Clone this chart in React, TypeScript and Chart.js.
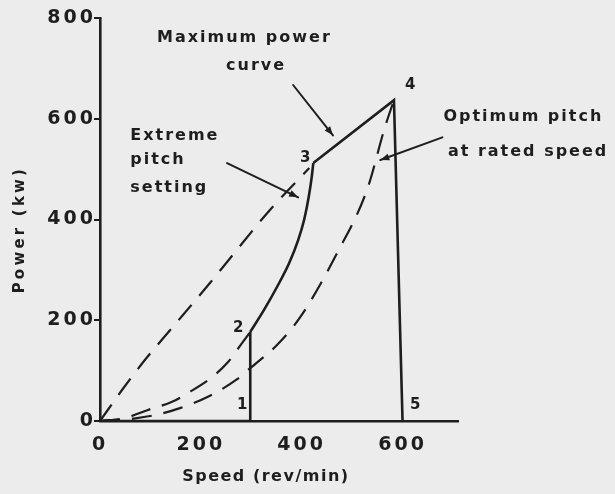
import React, { useEffect, useRef } from "react";
import { Chart, registerables } from "chart.js";

Chart.register(...registerables);

// ---- data (speed in rev/min, power in kW) ----
const SPEED_TICKS = [0, 200, 400, 600];
const POWER_TICKS = [0, 200, 400, 600, 800];
const SPEED_MAX = 710;
const POWER_MAX = 800;

// operating path 0 -> 1 -> 2 -> 3 -> 4 -> 5 (maximum power curve)
const maxPowerSpeed = [0, 298, 298, 325, 351, 375, 393, 405, 414, 420, 423, 583, 600];
const maxPowerValue = [0, 0, 177, 220, 266, 313, 359, 400, 445, 485, 512, 637, 0];
// index of point 2 and point 3 on the path; between them the path is a smooth curve
const POINT2_INDEX = 2;
const POINT3_INDEX = 10;

// extreme pitch setting (dashed, up to point 3)
const extremePitchSpeed = [0, 44, 89, 143, 218, 258, 337, 415];
const extremePitchPower = [0, 62, 121, 185, 274, 323, 419, 502];

// intermediate pitch (dashed, up to point 2)
const midPitchSpeed = [0, 50, 95, 143, 175, 222, 254, 282, 298];
const midPitchPower = [0, 6, 22, 38, 56, 87, 117, 155, 177];

// optimum pitch at rated speed (dashed, up to point 4)
const optimumPitchSpeed = [0, 60, 115, 160, 214, 272, 298, 350, 397, 470, 530, 565, 583];
const optimumPitchPower = [0, 4, 13, 26, 48, 83, 105, 150, 206, 333, 460, 583, 637];

// numbered operating points: label, speed, power
const pointLabels = ["1", "2", "3", "4", "5"];
const pointLabelSpeed = [282, 274, 407, 615, 625];
const pointLabelPower = [32, 185, 522, 667, 32];

// annotation text lines: text, left speed, middle power
const noteText = ["Maximum power", "curve", "Extreme", "pitch", "setting", "Optimum pitch", "at rated speed"];
const noteSpeed = [113, 250, 60, 60, 60, 681, 690];
const notePower = [760, 706, 567, 518, 462, 603, 534];

// leader arrows: from (speed, power) to tip (speed, power)
const arrowFromSpeed = [383, 252, 679];
const arrowFromPower = [667, 512, 563];
const arrowToSpeed = [462, 393, 556];
const arrowToPower = [567, 444, 518];

const X_TITLE = "Speed (rev/min)";
const Y_TITLE = "Power (kw)";

const INK = "#1e1e1e";
const FONT = "'DejaVu Sans', 'Verdana', sans-serif";

const toXY = (xs: number[], ys: number[]) => xs.map((x, i) => ({ x, y: ys[i] }));

const annotations = {
  id: "annotations",
  beforeLayout(chart: any) {
    chart.ctx.letterSpacing = "3px";
  },
  beforeDraw(chart: any) {
    chart.ctx.letterSpacing = "3px";
  },
  afterDraw(chart: any) {
    const { ctx, chartArea } = chart;
    const xs = chart.scales.x;
    const ys = chart.scales.y;
    const px = (v: number) => xs.getPixelForValue(v);
    const py = (v: number) => ys.getPixelForValue(v);

    ctx.save();
    ctx.fillStyle = INK;
    ctx.strokeStyle = INK;

    // annotation text
    ctx.font = `bold 16px ${FONT}`;
    ctx.letterSpacing = "2px";
    ctx.textAlign = "left";
    ctx.textBaseline = "middle";
    noteText.forEach((t, i) => ctx.fillText(t, px(noteSpeed[i]), py(notePower[i])));

    // numbered points
    ctx.font = `bold 15px ${FONT}`;
    ctx.textAlign = "center";
    ctx.letterSpacing = "0px";
    pointLabels.forEach((t, i) => ctx.fillText(t, px(pointLabelSpeed[i]), py(pointLabelPower[i])));

    // leader arrows
    ctx.lineWidth = 2;
    ctx.lineCap = "round";
    arrowFromSpeed.forEach((_, i) => {
      const x0 = px(arrowFromSpeed[i]);
      const y0 = py(arrowFromPower[i]);
      const x1 = px(arrowToSpeed[i]);
      const y1 = py(arrowToPower[i]);
      ctx.beginPath();
      ctx.moveTo(x0, y0);
      ctx.lineTo(x1, y1);
      ctx.stroke();
      const a = Math.atan2(y1 - y0, x1 - x0);
      const len = 9;
      const half = 3.5;
      const bx = x1 - len * Math.cos(a);
      const by = y1 - len * Math.sin(a);
      ctx.beginPath();
      ctx.moveTo(x1, y1);
      ctx.lineTo(bx + half * Math.sin(a), by - half * Math.cos(a));
      ctx.lineTo(bx - half * Math.sin(a), by + half * Math.cos(a));
      ctx.closePath();
      ctx.fill();
    });

    // axis titles
    ctx.font = `bold 16px ${FONT}`;
    ctx.letterSpacing = "1.5px";
    ctx.textAlign = "center";
    ctx.textBaseline = "middle";
    ctx.fillText(X_TITLE, px(329), chartArea.bottom + 56);

    ctx.font = `bold 15px ${FONT}`;
    ctx.letterSpacing = "3.2px";
    ctx.translate(chartArea.left - 80, py(380));
    ctx.rotate(-Math.PI / 2);
    ctx.fillText(Y_TITLE, 0, 0);
    ctx.restore();
  },
};

export default function App() {
  const ref = useRef<HTMLCanvasElement>(null);

  useEffect(() => {
    const lineStyle = {
      borderColor: INK,
      pointRadius: 0,
      tension: 0,
      fill: false,
    };
    const dashed = {
      ...lineStyle,
      borderWidth: 2.2,
      borderDash: [20, 12],
      cubicInterpolationMode: "monotone",
    };
    const solidXY = toXY(maxPowerSpeed, maxPowerValue);
    const chart = new Chart(ref.current!, {
      type: "line",
      data: {
        datasets: [
          { ...lineStyle, label: "Maximum power curve (0-1-2)", data: solidXY.slice(0, POINT2_INDEX + 1), borderWidth: 2.6 },
          {
            ...lineStyle,
            label: "Maximum power curve (2-3)",
            data: solidXY.slice(POINT2_INDEX, POINT3_INDEX + 1),
            borderWidth: 2.6,
            cubicInterpolationMode: "monotone",
          },
          { ...lineStyle, label: "Maximum power curve (3-4-5)", data: solidXY.slice(POINT3_INDEX), borderWidth: 2.6 },
          { ...dashed, label: "Extreme pitch setting", data: toXY(extremePitchSpeed, extremePitchPower) },
          { ...dashed, label: "Intermediate pitch", data: toXY(midPitchSpeed, midPitchPower) },
          { ...dashed, label: "Optimum pitch at rated speed", data: toXY(optimumPitchSpeed, optimumPitchPower) },
        ],
      },
      options: {
        animation: false,
        responsive: false,
        devicePixelRatio: 1,
        layout: { padding: { top: 18, right: 157, left: 0, bottom: 0 } },
        plugins: { legend: { display: false }, tooltip: { enabled: false } },
        scales: {
          x: {
            type: "linear",
            min: 0,
            max: SPEED_MAX,
            afterFit: (s: any) => {
              s.height = 73;
            },
            afterBuildTicks: (s: any) => {
              s.ticks = SPEED_TICKS.map((value) => ({ value }));
            },
            grid: { display: false },
            border: { color: INK, width: 2.6 },
            ticks: {
              color: INK,
              font: { family: FONT, size: 19, weight: "bold" },
              padding: 5,
              maxRotation: 0,
            },
          },
          y: {
            type: "linear",
            min: 0,
            max: POWER_MAX,
            afterFit: (s: any) => {
              s.width = 100;
            },
            afterBuildTicks: (s: any) => {
              s.ticks = POWER_TICKS.map((value) => ({ value }));
            },
            grid: { drawOnChartArea: false, color: INK, lineWidth: 2, tickLength: 6 },
            border: { color: INK, width: 2.6 },
            ticks: {
              color: INK,
              font: { family: FONT, size: 19, weight: "bold" },
              padding: -2,
            },
          },
        },
      },
      plugins: [annotations],
    } as any);
    return () => chart.destroy();
  }, []);

  return (
    <div style={{ position: "fixed", left: 0, top: 0, width: 615, height: 494, background: "#ececec" }}>
      <canvas ref={ref} width={615} height={494} style={{ display: "block" }} />
    </div>
  );
}
